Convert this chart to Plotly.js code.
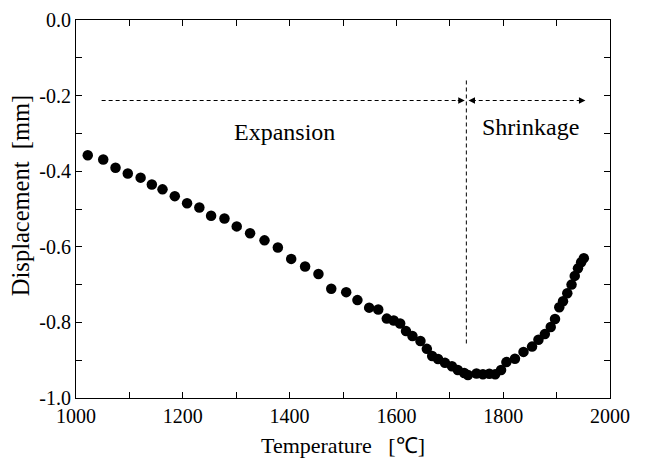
<!DOCTYPE html>
<html>
<head>
<meta charset="utf-8">
<script src="https://cdn.plot.ly/plotly-3.0.1.min.js"></script>
<style>html,body{margin:0;padding:0;background:#fff;}#chart{width:646px;height:462px;}</style>
</head>
<body>
<div id="chart"></div>
<script>
const temperature = [1022, 1051, 1074, 1097, 1121, 1142, 1162, 1185, 1208, 1231, 1253, 1278, 1301, 1326, 1353, 1378, 1403, 1429, 1454, 1478, 1506, 1527, 1549, 1566, 1582, 1595, 1607, 1618, 1630, 1645, 1657, 1667, 1678, 1691, 1704, 1715, 1727, 1734, 1750, 1762, 1774, 1785, 1796, 1806, 1822, 1838, 1854, 1866, 1878, 1889, 1897, 1905, 1912, 1920, 1928, 1934, 1940, 1946, 1951];
const displacement = [-0.358, -0.369, -0.391, -0.406, -0.417, -0.435, -0.448, -0.466, -0.485, -0.496, -0.518, -0.525, -0.546, -0.564, -0.583, -0.602, -0.632, -0.652, -0.672, -0.711, -0.720, -0.741, -0.761, -0.766, -0.790, -0.795, -0.803, -0.823, -0.836, -0.849, -0.870, -0.889, -0.897, -0.907, -0.916, -0.926, -0.934, -0.939, -0.935, -0.937, -0.936, -0.937, -0.926, -0.905, -0.896, -0.878, -0.864, -0.846, -0.831, -0.812, -0.791, -0.760, -0.744, -0.723, -0.700, -0.677, -0.657, -0.641, -0.630];

const xTickVals = [1000, 1200, 1400, 1600, 1800, 2000];
const xTickText = ['1000', '1200', '1400', '1600', '1800', '2000'];
const yTickVals = [-1.0, -0.8, -0.6, -0.4, -0.2, 0.0];
const yTickText = ['-1.0', '-0.8', '-0.6', '-0.4', '-0.2', '0.0'];

const xTitle = 'Temperature\u00a0\u00a0\u00a0[\u2103]';
const yTitle = 'Displacement\u00a0\u00a0[mm]';

const arrowY = -0.213;
const expansionRange = [1048, 1722];
const shrinkageRange = [1741, 1948];
const boundaryT = 1731;
const boundaryRange = [-0.16, -0.858];
const labels = [
  {text: 'Expansion', x: 1390, y: -0.296},
  {text: 'Shrinkage', x: 1851, y: -0.283}
];

const serif = 'Liberation Serif';

const trace = {
  x: temperature, y: displacement, type: 'scatter', mode: 'markers',
  marker: {color: '#000', size: 10.5, line: {width: 0}},
  hoverinfo: 'skip', showlegend: false
};

const dashStyle = {color: '#000', width: 1, dash: '4px,3px'};
const shapes = [
  {type: 'line', xref: 'x', yref: 'y', x0: expansionRange[0], x1: expansionRange[1], y0: arrowY, y1: arrowY, line: dashStyle},
  {type: 'line', xref: 'x', yref: 'y', x0: shrinkageRange[0], x1: shrinkageRange[1], y0: arrowY, y1: arrowY, line: dashStyle},
  {type: 'line', xref: 'x', yref: 'y', x0: boundaryT, x1: boundaryT, y0: boundaryRange[0], y1: boundaryRange[1], line: dashStyle}
];

function head(xTip, xFrom) {
  return {x: xTip, y: arrowY, ax: xFrom, ay: arrowY, xref: 'x', yref: 'y', axref: 'x', ayref: 'y',
    text: '', showarrow: true, arrowhead: 2, arrowsize: 1.3, arrowwidth: 1, arrowcolor: '#000'};
}
const annotations = [
  head(1728, 1712),
  head(1735, 1751),
  head(1954, 1938)
].concat(labels.map(l => ({x: l.x, y: l.y, xref: 'x', yref: 'y', text: l.text, showarrow: false,
  font: {family: serif, size: 24, color: '#000'}})))
 .concat([{xref: 'paper', yref: 'paper', x: 0, y: 0.534, xshift: -56, xanchor: 'center', yanchor: 'middle',
   text: yTitle, textangle: -90, showarrow: false, font: {family: serif, size: 24.5, color: '#000'}}]);

const axisCommon = {
  showline: true, linecolor: '#000', linewidth: 1, mirror: 'ticks',
  ticks: 'inside', ticklen: 6, tickwidth: 1, tickcolor: '#000',
  showgrid: false, zeroline: false, tickmode: 'array',
  tickfont: {family: serif, size: 20, color: '#000'}
};

const layout = {
  width: 646, height: 462,
  margin: {l: 76, r: 36, t: 20, b: 64},
  paper_bgcolor: '#fff', plot_bgcolor: '#fff',
  font: {family: serif, color: '#000'},
  xaxis: Object.assign({}, axisCommon, {
    range: [1000, 2000], tickvals: xTickVals, ticktext: xTickText,
    minor: {dtick: 100, ticks: 'inside', ticklen: 6, tickcolor: '#000', showgrid: false},
    title: {text: xTitle, font: {family: serif, size: 22, color: '#000'}, standoff: 11}
  }),
  yaxis: Object.assign({}, axisCommon, {
    range: [-1, 0], tickvals: yTickVals, ticktext: yTickText,
    minor: {dtick: 0.1, ticks: 'inside', ticklen: 6, tickcolor: '#000', showgrid: false}
  }),
  shapes: shapes,
  annotations: annotations
};

Plotly.newPlot('chart', [trace], layout, {displayModeBar: false, staticPlot: true});
</script>
</body>
</html>
